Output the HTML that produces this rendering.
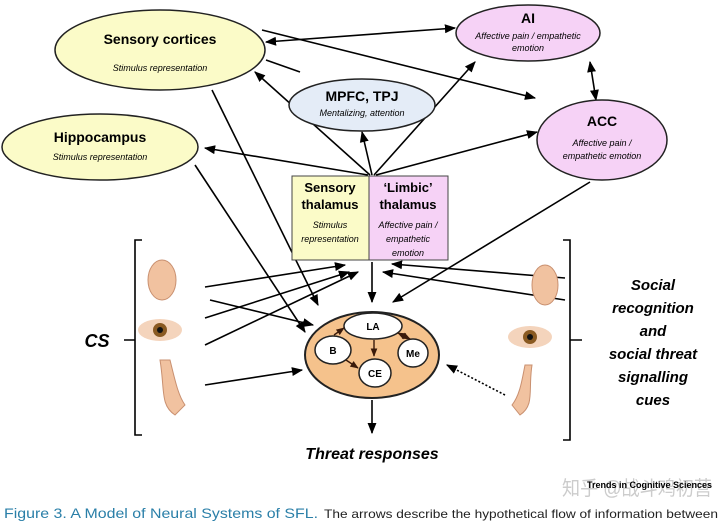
<!DOCTYPE html>
<html><head><meta charset="utf-8"><style>
body{margin:0;width:720px;height:524px;background:#fff;overflow:hidden;font-family:"Liberation Sans",sans-serif}
svg{position:absolute;left:0;top:0}
text{font-family:"Liberation Sans","DejaVu Sans",sans-serif}
</style></head><body>
<svg width="720" height="524" viewBox="0 0 720 524">
<defs>
<marker id="a" viewBox="0 0 10 10" refX="9" refY="5" markerWidth="7" markerHeight="7" orient="auto-start-reverse"><path d="M0,1 L10,5 L0,9 z" fill="#000"/></marker>
<marker id="b" viewBox="0 0 10 10" refX="9" refY="5" markerWidth="6" markerHeight="6" orient="auto-start-reverse"><path d="M0,1 L10,5 L0,9 z" fill="#3a1a0a"/></marker>
</defs>
<g stroke="#000" stroke-width="1.6" fill="none" marker-end="url(#a)">
<line x1="266" y1="42" x2="455" y2="28" marker-start="url(#a)"/>
<line x1="262" y1="30" x2="535" y2="98"/>
<line x1="266" y1="60" x2="300" y2="72" marker-end="none"/>
<line x1="370" y1="175" x2="255" y2="72"/>
<line x1="372" y1="175" x2="362" y2="132"/>
<line x1="374" y1="175" x2="475" y2="62"/>
<line x1="376" y1="175" x2="537" y2="132"/>
<line x1="368" y1="175" x2="205" y2="148"/>
<line x1="590" y1="62" x2="596" y2="100" marker-start="url(#a)"/>
<line x1="195" y1="165" x2="305" y2="332"/>
<line x1="212" y1="90" x2="318" y2="305"/>
<line x1="590" y1="182" x2="393" y2="302"/>
<line x1="372" y1="262" x2="372" y2="302"/>
<line x1="205" y1="287" x2="345" y2="265"/>
<line x1="205" y1="318" x2="349" y2="272"/>
<line x1="205" y1="345" x2="358" y2="272"/>
<line x1="210" y1="300" x2="313" y2="325"/>
<line x1="205" y1="385" x2="302" y2="370"/>
<line x1="565" y1="278" x2="392" y2="264"/>
<line x1="565" y1="300" x2="383" y2="272"/>
<line x1="505" y1="395" x2="447" y2="365" stroke-dasharray="2,2"/>
<line x1="372" y1="400" x2="372" y2="433"/>
</g>
<ellipse cx="160" cy="50" rx="105" ry="40" fill="#fbfbc8" stroke="#222" stroke-width="1.5"/>
<text x="160" y="44" font-size="14" font-weight="bold" text-anchor="middle">Sensory cortices</text>
<text x="160" y="71" font-size="9" font-style="italic" text-anchor="middle">Stimulus representation</text>
<ellipse cx="528" cy="33" rx="72" ry="28" fill="#f6d2f6" stroke="#222" stroke-width="1.5"/>
<text x="528" y="23" font-size="14" font-weight="bold" text-anchor="middle">AI</text>
<text x="528" y="39" font-size="9" font-style="italic" text-anchor="middle">Affective pain / empathetic</text>
<text x="528" y="51" font-size="9" font-style="italic" text-anchor="middle">emotion</text>
<ellipse cx="362" cy="105" rx="73" ry="26" fill="#e4ecf7" stroke="#222" stroke-width="1.5"/>
<text x="362" y="101" font-size="14" font-weight="bold" text-anchor="middle">MPFC, TPJ</text>
<text x="362" y="116" font-size="9" font-style="italic" text-anchor="middle">Mentalizing, attention</text>
<ellipse cx="602" cy="140" rx="65" ry="40" fill="#f6d2f6" stroke="#222" stroke-width="1.5"/>
<text x="602" y="126" font-size="14" font-weight="bold" text-anchor="middle">ACC</text>
<text x="602" y="146" font-size="9" font-style="italic" text-anchor="middle">Affective pain /</text>
<text x="602" y="159" font-size="9" font-style="italic" text-anchor="middle">empathetic emotion</text>
<ellipse cx="100" cy="147" rx="98" ry="33" fill="#fbfbc8" stroke="#222" stroke-width="1.5"/>
<text x="100" y="142" font-size="14" font-weight="bold" text-anchor="middle">Hippocampus</text>
<text x="100" y="160" font-size="9" font-style="italic" text-anchor="middle">Stimulus representation</text>
<rect x="292" y="176" width="77" height="84" fill="#fbfbc8" stroke="#444"/>
<rect x="369" y="176" width="79" height="84" fill="#f6d2f6" stroke="#444"/>
<g font-size="13" font-weight="bold" text-anchor="middle"><text x="330" y="192">Sensory</text><text x="330" y="209">thalamus</text><text x="408" y="192">‘Limbic’</text><text x="408" y="209">thalamus</text></g>
<g font-size="9" font-style="italic" text-anchor="middle"><text x="330" y="228">Stimulus</text><text x="330" y="242">representation</text><text x="408" y="228">Affective pain /</text><text x="408" y="242">empathetic</text><text x="408" y="256">emotion</text></g>
<ellipse cx="372" cy="355" rx="67" ry="43" fill="#f5c28c" stroke="#222" stroke-width="2"/>
<g fill="#fff" stroke="#222" stroke-width="1.5"><ellipse cx="373" cy="326" rx="29" ry="13"/><ellipse cx="333" cy="350" rx="18" ry="14"/><ellipse cx="375" cy="373" rx="16" ry="14"/><ellipse cx="413" cy="353" rx="15" ry="14"/></g>
<g font-size="10" font-weight="bold" text-anchor="middle"><text x="373" y="330">LA</text><text x="333" y="354">B</text><text x="375" y="377">CE</text><text x="413" y="357">Me</text></g>
<g stroke="#3a1a0a" stroke-width="1.4" marker-end="url(#b)"><line x1="334" y1="335" x2="344" y2="328"/><line x1="346" y1="360" x2="358" y2="368"/><line x1="374" y1="340" x2="374" y2="356"/><line x1="398" y1="333" x2="410" y2="339" marker-start="url(#b)"/></g>
<g stroke="#000" stroke-width="1.6" fill="none"><path d="M142,240 H135 V435 H142 M135,340 H124"/><path d="M563,240 H570 V440 H563 M570,340 H582"/></g>
<text x="97" y="347" font-size="18" font-weight="bold" font-style="italic" text-anchor="middle">CS</text>
<g font-size="15" font-weight="bold" font-style="italic" text-anchor="middle"><text x="653" y="290">Social</text><text x="653" y="313">recognition</text><text x="653" y="336">and</text><text x="653" y="359">social threat</text><text x="653" y="382">signalling</text><text x="653" y="405">cues</text></g>
<g fill="#f1c2a0" stroke="#c99070"><ellipse cx="162" cy="280" rx="14" ry="20"/><ellipse cx="545" cy="285" rx="13" ry="20"/><path d="M160,360 C165,390 160,405 175,415 L185,405 C178,395 175,380 170,360 z"/><path d="M532,365 C528,390 535,405 520,415 L512,405 C520,395 522,380 525,365 z"/></g>
<g><ellipse cx="160" cy="330" rx="22" ry="11" fill="#f4d4bc"/><circle cx="160" cy="330" r="7" fill="#8a5a22"/><circle cx="160" cy="330" r="3" fill="#111"/>
<ellipse cx="530" cy="337" rx="22" ry="11" fill="#f4d4bc"/><circle cx="530" cy="337" r="7" fill="#8a5a22"/><circle cx="530" cy="337" r="3" fill="#111"/></g>
<text x="372" y="459" font-size="16" font-weight="bold" font-style="italic" text-anchor="middle">Threat responses</text>
<text x="562" y="495" font-size="20" fill="#ccc" textLength="150" lengthAdjust="spacingAndGlyphs" font-family="'Liberation Sans','Noto Sans CJK SC',sans-serif">知乎 @战斗鸡初营</text>
<text x="712" y="488" font-size="9" font-weight="bold" text-anchor="end">Trends in Cognitive Sciences</text>
<text x="4" y="518" font-size="14" fill="#2a7fa8" textLength="314" lengthAdjust="spacingAndGlyphs">Figure 3. A Model of Neural Systems of SFL.</text>
<text x="324" y="518" font-size="12" fill="#222" textLength="394" lengthAdjust="spacingAndGlyphs">The arrows describe the hypothetical flow of information between</text>
</svg>
</body></html>
